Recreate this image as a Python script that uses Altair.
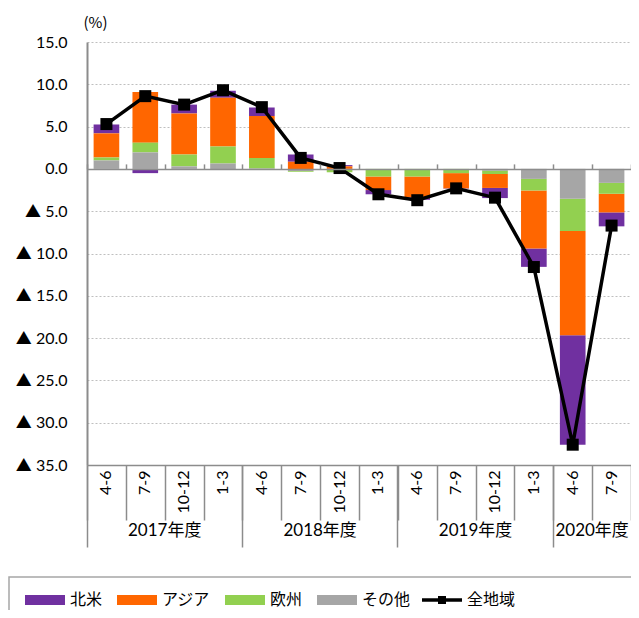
import altair as alt
import pandas as pd

# ---- data ----
fiscal_years = ["2017年度"] * 4 + ["2018年度"] * 4 + ["2019年度"] * 4 + ["2020年度"] * 2
quarters = ["4-6", "7-9", "10-12", "1-3"] * 3 + ["4-6", "7-9"]
regions = ["北米", "アジア", "欧州", "その他"]
region_colors = ["#7030A0", "#FF6600", "#92D050", "#A6A6A6"]
north_america = [1.05, -0.5, 1.05, 0.85, 1.0, 0.85, 0.15, -0.5, -0.3, -0.05, -1.2, -2.17, -12.95, -1.65]
asia = [2.85, 6.0, 4.85, 5.75, 4.95, 0.85, 0.3, -1.6, -2.45, -1.8, -1.65, -6.86, -12.31, -2.2]
europe = [0.35, 1.15, 1.4, 2.0, 1.25, -0.1, -0.35, -0.9, -0.9, -0.5, -0.4, -1.37, -3.81, -1.29]
other = [1.0, 1.95, 0.3, 0.65, 0.05, -0.25, -0.05, 0.0, 0.0, 0.0, -0.2, -1.18, -3.53, -1.65]
total = [5.3, 8.6, 7.6, 9.3, 7.3, 1.3, 0.1, -3.0, -3.7, -2.3, -3.4, -11.6, -32.6, -6.7]
total_name = "全地域"
y_ticks = list(range(-35, 20, 5))

# ---- layout ----
W, H = 544, 423
Y_MIN, Y_MAX = -35, 15
zero_px = H * Y_MAX / (Y_MAX - Y_MIN)
AXIS_GRAY = "#8c8c8c"
NUM_FONT = "Lato, 'Noto Sans CJK JP'"
JP_FONT = "'Noto Sans CJK JP'"

cat_ids = [f"{fy[:4]}|{q}" for fy, q in zip(fiscal_years, quarters)]

rows = []
for i, cid in enumerate(cat_ids):
    for k, (name, vals) in enumerate(zip(regions, [north_america, asia, europe, other])):
        rows.append({"cat": cid, "region": name, "value": vals[i], "order": 3 - k})
bars_df = pd.DataFrame(rows)
line_df = pd.DataFrame({"cat": cat_ids, "value": total, "series": total_name})

# year groups
year_rows = []
sep_vals = []
seen = []
for fy in fiscal_years:
    if fy not in seen:
        seen.append(fy)
for fy in seen:
    idx = [i for i, f in enumerate(fiscal_years) if f == fy]
    sep_vals.append(cat_ids[idx[0]])
    year_rows.append({"mid": cat_ids[idx[0] + len(idx) // 2], "label": fy})
year_df = pd.DataFrame(year_rows)

x_scale = alt.Scale(domain=cat_ids, paddingInner=0, paddingOuter=0)
y_scale = alt.Scale(domain=[Y_MIN, Y_MAX], nice=False, zero=False)
y_axis = alt.Axis(
    values=y_ticks, title="(%)", titleAngle=0, titleX=-4, titleY=-15, titleAlign="left",
    titleBaseline="alphabetic", titleFont=JP_FONT, titleFontSize=15, titleFontWeight="normal",
    titleColor="black",
    labelExpr="datum.value < 0 ? '▲ ' + format(-datum.value, '.1f') : format(datum.value, '.1f')",
    labelFont=NUM_FONT, labelFontSize=16, labelColor="black", labelPadding=20, ticks=False,
    domainColor=AXIS_GRAY, domainWidth=2, grid=True, gridColor="#bfbfbf", gridDash=[2, 2],
    gridWidth=1)

bars = alt.Chart(bars_df).mark_bar(width=alt.RelativeBandSize(0.66)).encode(
    x=alt.X("cat:N", scale=x_scale, axis=alt.Axis(
        orient="bottom", title=None, labelExpr="substring(datum.value, 5)",
        labelAngle=270, ticks=False, domain=True, domainColor=AXIS_GRAY, domainWidth=1.5,
        labelPadding=5, labelFontSize=16, labelFont=NUM_FONT, labelColor="black", grid=False)),
    y=alt.Y("value:Q", scale=y_scale, stack="zero", axis=y_axis),
    color=alt.Color("region:N", scale=alt.Scale(domain=regions, range=region_colors),
                    legend=alt.Legend(orient="none", legendX=-62, legendY=538, direction="horizontal",
                                      title=None, symbolType="M-1,-0.25L1,-0.25L1,0.25L-1,0.25Z",
                                      symbolSize=1600, symbolStrokeWidth=0, labelFontSize=16,
                                      labelFont=JP_FONT, labelOffset=5, columnPadding=14, padding=0,
                                      labelColor="black", symbolOpacity=1)),
    order=alt.Order("order:Q", sort="ascending"),
)

line = alt.Chart(line_df).mark_line(color="black", strokeWidth=3.5).encode(
    x=alt.X("cat:N", scale=x_scale, axis=alt.Axis(
        orient="top", offset=-zero_px, labels=False, tickBand="extent", tickSize=5,
        tickColor=AXIS_GRAY, tickWidth=1.5, domainColor=AXIS_GRAY, domainWidth=1.5, title=None,
        grid=False, zindex=1)),
    y=alt.Y("value:Q", scale=y_scale, axis=y_axis),
)

points = alt.Chart(line_df).mark_square(size=144, opacity=1).encode(
    x=alt.X("cat:N", scale=x_scale, axis=alt.Axis(
        orient="bottom", labels=False, domain=False, tickBand="extent", tickSize=55,
        tickColor=AXIS_GRAY, tickWidth=1.5, title=None, grid=False)),
    y=alt.Y("value:Q", scale=y_scale, axis=y_axis),
    fill=alt.Fill("series:N", scale=alt.Scale(domain=[total_name], range=["black"]),
                  legend=alt.Legend(orient="none", legendX=335, legendY=538, title=None,
                                    symbolType="M-1,-0.09L1,-0.09L1,0.09L-1,0.09Z M-0.2,-0.2L0.2,-0.2L0.2,0.2L-0.2,0.2Z",
                                    symbolSize=1600, symbolStrokeWidth=0, labelFontSize=16,
                                    labelFont=JP_FONT, labelOffset=5, padding=0,
                                    labelColor="black", symbolOpacity=1)),
)

years = alt.Chart(year_df).mark_text(fontSize=17, font=NUM_FONT, color="black", baseline="middle",
                                     align="center").encode(
    x=alt.X("mid:N", bandPosition=0, scale=x_scale, axis=alt.Axis(
        orient="bottom", values=sep_vals, bandPosition=0, labels=False, domain=False,
        tickSize=82, tickColor=AXIS_GRAY, tickWidth=1.5, title=None, grid=False)),
    y=alt.value(H + 66),
    text="label:N",
)

legend_box = alt.Chart(pd.DataFrame({"k": [0]})).mark_rect(
    fill=None, stroke="#a6a6a6", strokeWidth=1.5).encode(
    x=alt.value(-78), x2=alt.value(620), y=alt.value(535), y2=alt.value(620),
)

chart = alt.layer(bars, line, points, years, legend_box).resolve_axis(x="independent").properties(
    width=W, height=H,
    autosize=alt.AutoSizeParams(type="none"),
    padding={"left": 79, "top": 34, "right": 0, "bottom": 145},
).configure_view(stroke=None)

chart.save("out.html", embed_options={"renderer": "svg", "actions": False})
